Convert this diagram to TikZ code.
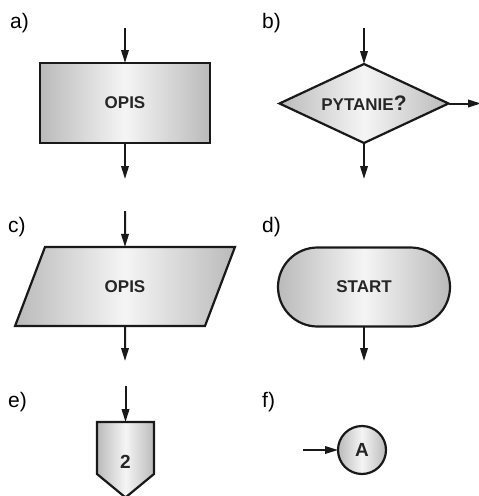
\documentclass[tikz,border=0pt]{standalone}
\usepackage{fontspec}
\setmainfont{Liberation Sans}
\usetikzlibrary{arrows.meta,shapes.geometric,shapes.misc}
\tikzset{
  block/.style={draw=black!90, line width=2.2pt, outer sep=0pt, inner sep=0pt,
    left color=black!27, right color=black!27, middle color=black!4,
    font=\fontsize{17}{20}\selectfont\bfseries, text=black!85},
  flow/.style={line width=2pt, black!90, -{Triangle[length=13pt,width=7.5pt]}},
  tag/.style={anchor=base west, inner sep=0pt, font=\fontsize{21}{22}\selectfont}
}
\begin{document}
\begin{tikzpicture}[x=1pt,y=-1pt]
\useasboundingbox (0,0) rectangle (479,496);

% a) process box
\node[tag] (la) at (10,28) {a)};
\node[block, rectangle, minimum width=170pt, minimum height=80pt] (opis) at (125,103) {OPIS};
\coordinate (a-in) at (125,28);
\coordinate (a-out) at (125,179);
\draw[flow] (a-in) -- (opis.north);
\draw[flow] (opis.south) -- (a-out);

% b) decision
\node[tag] (lb) at (262,28) {b)};
\node[block, diamond, shape aspect=2.14, minimum width=169pt, minimum height=79pt] (quest) at (364,103.5)
  {PYTANIE\fontsize{21}{22}\selectfont ?};
\coordinate (b-in) at (364,28);
\coordinate (b-out) at (364,179);
\coordinate (b-side) at (481,103.5);
\draw[flow] (b-in) -- (quest.north);
\draw[flow] (quest.south) -- (b-out);
\draw[flow] (quest.east) -- (b-side);

% c) input / output
\node[tag] (lc) at (8,232) {c)};
\node[block, trapezium, trapezium left angle=57.7, trapezium right angle=122.3,
  trapezium stretches=true, minimum width=220pt, minimum height=79pt] (io) at (125,286.5) {OPIS};
\coordinate (c-in) at (125,211);
\coordinate (c-out) at (125,361);
\draw[flow] (c-in) -- (io.north);
\draw[flow] (io.south) -- (c-out);

% d) terminal
\node[tag] (ld) at (262,232) {d)};
\node[block, rounded rectangle, minimum width=172pt, minimum height=79pt] (start) at (364,287) {START};
\coordinate (d-out) at (364,361);
\draw[flow] (start.south) -- (d-out);

% e) off-page connector
\node[tag] (le) at (8,407) {e)};
\fill[left color=black!27, right color=black!27, middle color=black!4]
  (97,422) -- (154,422) -- (154,474) -- (125.5,497.5) -- (97,474) -- cycle;
\draw[line width=2.2pt, black!90, line join=miter]
  (97,422) -- (154,422) -- (154,474) -- (125.5,497.5) -- (97,474) -- cycle;
\node[font=\fontsize{19}{20}\selectfont\bfseries, text=black!85] (two) at (125.5,462) {2};
\coordinate (e-top) at (125.5,422);
\coordinate (e-in) at (125.5,386);
\draw[flow] (e-in) -- (e-top);

% f) on-page connector
\node[tag] (lf) at (262,407) {f)};
\node[block, circle, minimum size=48pt, font=\fontsize{19}{20}\selectfont\bfseries] (conn) at (362,450) {A};
\coordinate (f-in) at (303,450);
\draw[flow] (f-in) -- (conn.west);
\end{tikzpicture}
\end{document}
